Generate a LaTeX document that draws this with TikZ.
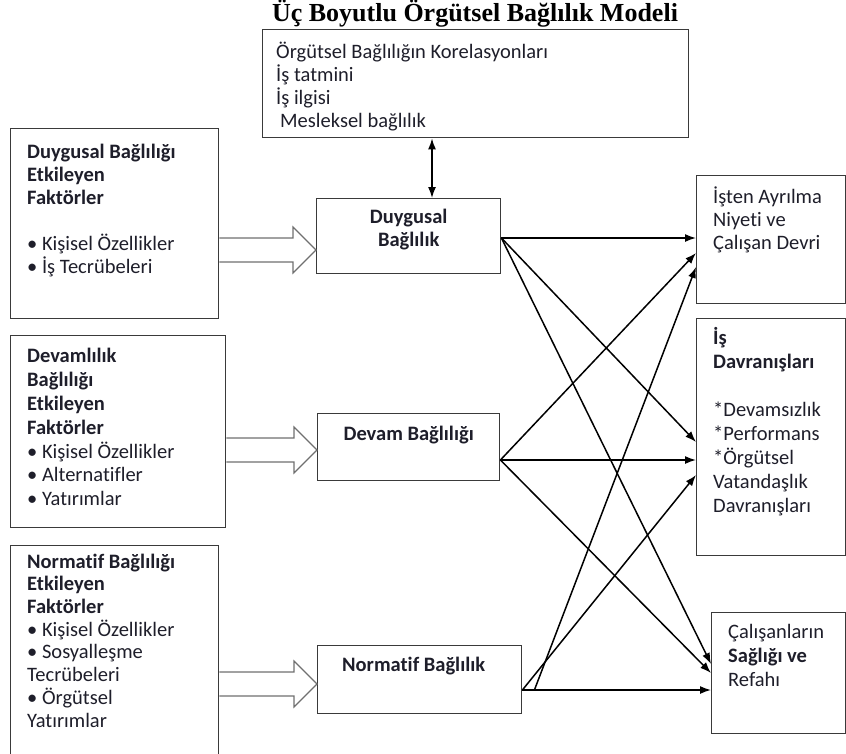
\documentclass[tikz,border=0pt]{standalone}
\usepackage{fontspec}
\setmainfont[Ligatures=NoCommon]{Carlito}
\newfontfamily\titlefont{Liberation Serif}
\usetikzlibrary{arrows.meta,calc}
\definecolor{modink}{HTML}{1E1E2A}
\definecolor{modedge}{HTML}{3A3A3A}
\definecolor{modhollow}{HTML}{707070}
\lineskiplimit=-20pt
% open block arrow: from node, to node, height of its axis
\newcommand{\fatarrow}[3]{%
  \draw[hol] (#1.east |- 0,#3-12) -- ($(#2.west |- 0,#3)+(-23,-12)$) -- ++(0,-11)
    -- (#2.west |- 0,#3) -- ++(-23,23) -- ++(0,-11) -- (#1.east |- 0,#3+12);}
\tikzset{
  bx/.style={draw=modedge, line width=1.4pt, inner sep=0pt, anchor=north west},
  txt/.style={anchor=north west, align=left, inner sep=0pt, text=modink, font=\fontsize{20.5}{23}\selectfont},
  mid/.style={txt, anchor=north, align=center, font=\fontsize{20.5}{23}\selectfont\bfseries},
  arr/.style={-{Latex[length=11pt,width=8pt]}, line width=1.5pt, color=black},
  arr2/.style={{Latex[length=11pt,width=8pt]}-{Latex[length=11pt,width=8pt]}, line width=1.5pt, color=black},
  hol/.style={draw=modhollow, line width=1.2pt, fill=white, line join=miter},
}

\begin{document}
\begin{tikzpicture}[x=1pt, y=-1pt]
  \useasboundingbox (0,0) rectangle (846,753);
  \node[font=\titlefont\fontsize{26}{28}\selectfont\bfseries] (title) at (475,14) {Üç Boyutlu Örgütsel Bağlılık Modeli};
  % boxes
  \node[bx, minimum width=426pt, minimum height=108pt] (kor) at (262,29) {};
  \node[bx, minimum width=208pt, minimum height=190pt] (lb1) at (10,128) {};
  \node[bx, minimum width=215pt, minimum height=192pt] (lb2) at (10,335) {};
  \node[bx, minimum width=208pt, minimum height=210pt] (lb3) at (10,545) {};
  \node[bx, minimum width=184pt, minimum height=75pt] (duy) at (316,198) {};
  \node[bx, minimum width=182pt, minimum height=67pt] (dev) at (317,413) {};
  \node[bx, minimum width=204pt, minimum height=68pt] (nor) at (317,645) {};
  \node[bx, minimum width=149pt, minimum height=128pt] (r1) at (696,175) {};
  \node[bx, minimum width=149pt, minimum height=237pt] (r2) at (696,318) {};
  \node[bx, minimum width=134pt, minimum height=121pt] (r3) at (711,612) {};
  % texts
  \node[txt] (kort) at ($(kor.north west)+(14,13)$) {\strut Örgütsel Bağlılığın Korelasyonları\\İş tatmini\\İş ilgisi\\\hspace{4pt}Mesleksel bağlılık};
  \node[txt] (lb1t) at ($(lb1.north west)+(17,14)$) {\strut\textbf{Duygusal Bağlılığı}\\\textbf{Etkileyen}\\\textbf{Faktörler}\\[23pt]• Kişisel Özellikler\\• İş Tecrübeleri};
  \node[txt, font=\fontsize{20.5}{23.8}\selectfont] (lb2t) at ($(lb2.north west)+(17,11)$) {\strut\textbf{Devamlılık}\\\textbf{Bağlılığı}\\\textbf{Etkileyen}\\\textbf{Faktörler}\\• Kişisel Özellikler\\• Alternatifler\\• Yatırımlar};
  \node[txt, font=\fontsize{20.5}{22.7}\selectfont] (lb3t) at ($(lb3.north west)+(17,7)$) {\strut\textbf{Normatif Bağlılığı}\\\textbf{Etkileyen}\\\textbf{Faktörler}\\• Kişisel Özellikler\\• Sosyalleşme\\Tecrübeleri\\• Örgütsel\\Yatırımlar};
  \node[mid] (duyt) at ($(duy.north)+(0,9)$) {\strut Duygusal\\Bağlılık};
  \node[mid] (devt) at ($(dev.north)+(0,11)$) {\strut Devam Bağlılığı};
  \node[mid] (nort) at ($(nor.north)+(-6,10)$) {\strut Normatif Bağlılık};
  \node[txt] (r1t) at ($(r1.north west)+(17,12)$) {\strut İşten Ayrılma\\Niyeti ve\\Çalışan Devri};
  \node[txt, font=\fontsize{20.5}{24}\selectfont] (r2t) at ($(r2.north west)+(17,9)$) {\strut\textbf{İş}\\\textbf{Davranışları}\\[24pt]*Devamsızlık\\*Performans\\*Örgütsel\\Vatandaşlık\\Davranışları};
  \node[txt, font=\fontsize{20.5}{24}\selectfont] (r3t) at ($(r3.north west)+(17,9)$) {\strut Çalışanların\\\textbf{Sağlığı ve}\\Refahı};
  % connectors
  \draw[arr2] (kor.south -| 432,0) -- (duy.north -| 432,0);
  \fatarrow{lb1}{duy}{250}
  \fatarrow{lb2}{dev}{450}
  \fatarrow{lb3}{nor}{684}
  \coordinate (dOut) at (duy.east |- 0,238);
  \coordinate (vOut) at (dev.east |- 0,460);
  \coordinate (nOut) at (nor.east |- 0,690);
  \coordinate (nOut2) at ($(nOut)+(12,0)$);
  \foreach \s/\t/\y in {dOut/r1/238, dOut/r2/442, dOut/r3/664, vOut/r1/253, vOut/r2/460, vOut/r3/673, nOut2/r1/267, nOut/r2/475, nOut/r3/690}
    \draw[arr] (\s) -- (\t.west |- 0,\y);
\end{tikzpicture}
\end{document}
